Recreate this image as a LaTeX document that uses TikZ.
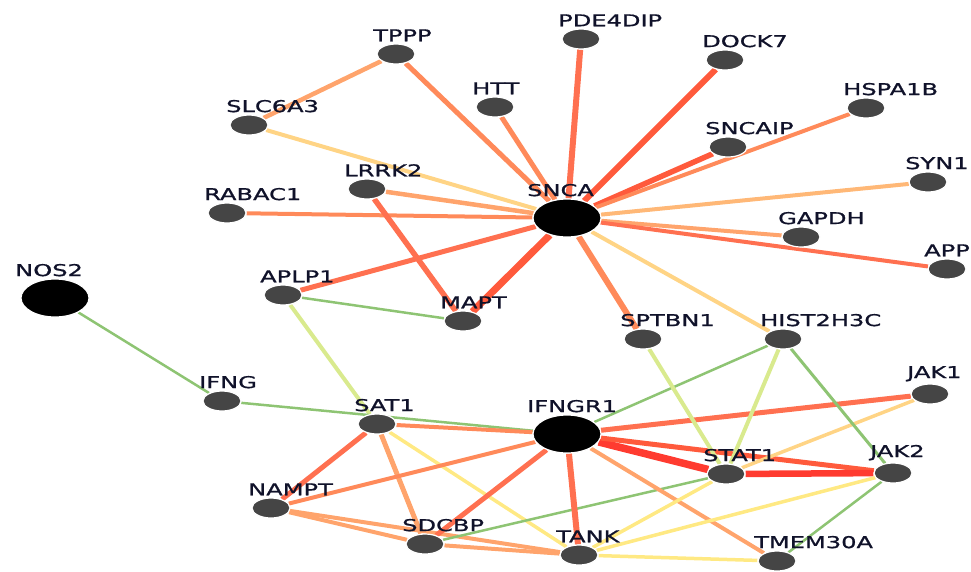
\documentclass[tikz,border=0pt]{standalone}
\usepackage{fontspec}
\usepackage{graphicx}
\newfontfamily\lblfont[FakeBold=0.8]{DejaVu Sans}
\usetikzlibrary{shapes.geometric}
\pgfdeclarelayer{bg}
\pgfsetlayers{bg,main}
\definecolor{cRed}{HTML}{FF3B30}
\definecolor{cRedOr}{HTML}{FF5A3C}
\definecolor{cOrRed}{HTML}{FF7050}
\definecolor{cOr}{HTML}{FF8A5A}
\definecolor{cLOr}{HTML}{FFA46C}
\definecolor{cPeach}{HTML}{FFB877}
\definecolor{cPale}{HTML}{FFD485}
\definecolor{cYel}{HTML}{FFE983}
\definecolor{cYGr}{HTML}{D9EA8E}
\definecolor{cGr}{HTML}{8EC473}
\definecolor{nodegray}{HTML}{454545}
\definecolor{labelcol}{HTML}{10122A}
\tikzset{
  gene/.style={ellipse, fill=nodegray, draw=white, line width=1.2pt, minimum width=38pt, minimum height=20pt, inner sep=0pt},
  hub/.style={gene, fill=black, minimum width=68pt, minimum height=38pt},
  lbl/.style={anchor=south west, inner sep=0pt, text=labelcol, font=\lblfont\fontsize{16.3}{16.3}\selectfont},
  ed/.style 2 args={draw=#1, line width=#2pt}
}
\newcommand\gn[4]{\node[gene] (#1) at (#2,#3) {};
  \node[lbl] (#1-l) at (#2-23,#3-12.5) {\scalebox{1.48}[1]{#4}};}
\newcommand\hn[4]{\node[hub] (#1) at (#2,#3) {};
  \node[lbl] (#1-l) at (#2-40,#3-21.5) {\scalebox{1.48}[1]{#4}};}
\begin{document}
\begin{tikzpicture}[x=1pt,y=-1pt]
\useasboundingbox (0,0) rectangle (971,571);
\clip (0,0) rectangle (971,571);
% nodes
\hn{SNCA}{567}{218}{SNCA}
\hn{IFNGR1}{567}{434}{IFNGR1}
\hn{NOS2}{55}{298}{NOS2}
\gn{TPPP}{396}{54}{TPPP}
\gn{SLC6A3}{249}{125}{SLC6A3}
\gn{LRRK2}{367}{189}{LRRK2}
\gn{RABAC1}{227}{213}{RABAC1}
\gn{APLP1}{283}{295}{APLP1}
\gn{MAPT}{463}{321}{MAPT}
\gn{IFNG}{222}{401}{IFNG}
\gn{SAT1}{377}{424}{SAT1}
\gn{NAMPT}{271}{508}{NAMPT}
\gn{SDCBP}{425}{544}{SDCBP}
\gn{PDE4DIP}{581}{39}{PDE4DIP}
\gn{DOCK7}{725}{60}{DOCK7}
\gn{HTT}{495}{107}{HTT}
\gn{HSPA1B}{866}{108}{HSPA1B}
\gn{SNCAIP}{728}{147}{SNCAIP}
\gn{SYN1}{928}{182}{SYN1}
\gn{GAPDH}{801}{237}{GAPDH}
\gn{APP}{947}{269}{APP}
\gn{SPTBN1}{643}{339}{SPTBN1}
\gn{HIST2H3C}{783}{339}{HIST2H3C}
\gn{JAK1}{930}{394}{JAK1}
\gn{STAT1}{726}{474}{STAT1}
\gn{JAK2}{893}{473}{JAK2}
\gn{TANK}{579}{555}{TANK}
\gn{TMEM30A}{777}{561}{TMEM30A}
% edges
\begin{pgfonlayer}{bg}
\draw[ed={cOr}{5}] (SNCA) -- (TPPP);
\draw[ed={cOr}{5}] (SNCA) -- (HTT);
\draw[ed={cOrRed}{6}] (SNCA) -- (PDE4DIP);
\draw[ed={cRedOr}{6}] (SNCA) -- (DOCK7);
\draw[ed={cRedOr}{5.5}] (SNCA) -- (SNCAIP);
\draw[ed={cOr}{4}] (SNCA) -- (HSPA1B);
\draw[ed={cPeach}{4}] (SNCA) -- (SYN1);
\draw[ed={cLOr}{4}] (SNCA) -- (GAPDH);
\draw[ed={cOrRed}{4}] (SNCA) -- (APP);
\draw[ed={cPale}{4}] (SNCA) -- (SLC6A3);
\draw[ed={cLOr}{4.5}] (SNCA) -- (LRRK2);
\draw[ed={cOr}{4}] (SNCA) -- (RABAC1);
\draw[ed={cOrRed}{5}] (SNCA) -- (APLP1);
\draw[ed={cRedOr}{7}] (SNCA) -- (MAPT);
\draw[ed={cOr}{6}] (SNCA) -- (SPTBN1);
\draw[ed={cPale}{4}] (SNCA) -- (HIST2H3C);
\draw[ed={cOrRed}{5.5}] (LRRK2) -- (MAPT);
\draw[ed={cLOr}{4.5}] (TPPP) -- (SLC6A3);
\draw[ed={cGr}{2.5}] (APLP1) -- (MAPT);
\draw[ed={cYGr}{4}] (APLP1) -- (SAT1);
\draw[ed={cGr}{2.5}] (NOS2) -- (IFNG);
\draw[ed={cGr}{2.5}] (IFNG) -- (IFNGR1);
\draw[ed={cOr}{4}] (SAT1) -- (IFNGR1);
\draw[ed={cOrRed}{5}] (SAT1) -- (NAMPT);
\draw[ed={cLOr}{5}] (SAT1) -- (SDCBP);
\draw[ed={cYel}{3.5}] (SAT1) -- (TANK);
\draw[ed={cOr}{4}] (NAMPT) -- (IFNGR1);
\draw[ed={cLOr}{4}] (NAMPT) -- (SDCBP);
\draw[ed={cLOr}{4}] (NAMPT) -- (TANK);
\draw[ed={cOrRed}{5}] (SDCBP) -- (IFNGR1);
\draw[ed={cGr}{2.5}] (SDCBP) -- (STAT1);
\draw[ed={cLOr}{4}] (SDCBP) -- (TANK);
\draw[ed={cOrRed}{6}] (IFNGR1) -- (TANK);
\draw[ed={cLOr}{4}] (IFNGR1) -- (TMEM30A);
\draw[ed={cRed}{7.5}] (IFNGR1) -- (STAT1);
\draw[ed={cRedOr}{5}] (IFNGR1) -- (JAK2);
\draw[ed={cOrRed}{5}] (IFNGR1) -- (JAK1);
\draw[ed={cGr}{2.5}] (IFNGR1) -- (HIST2H3C);
\draw[ed={cRed}{6.5}] (STAT1) -- (JAK2);
\draw[ed={cPale}{3.5}] (STAT1) -- (JAK1);
\draw[ed={cYel}{3.5}] (STAT1) -- (TANK);
\draw[ed={cYGr}{4}] (STAT1) -- (SPTBN1);
\draw[ed={cYGr}{4}] (STAT1) -- (HIST2H3C);
\draw[ed={cGr}{3}] (HIST2H3C) -- (JAK2);
\draw[ed={cYel}{3.5}] (JAK2) -- (TANK);
\draw[ed={cGr}{2.5}] (JAK2) -- (TMEM30A);
\draw[ed={cYel}{3.5}] (TANK) -- (TMEM30A);
\end{pgfonlayer}
\end{tikzpicture}
\end{document}
